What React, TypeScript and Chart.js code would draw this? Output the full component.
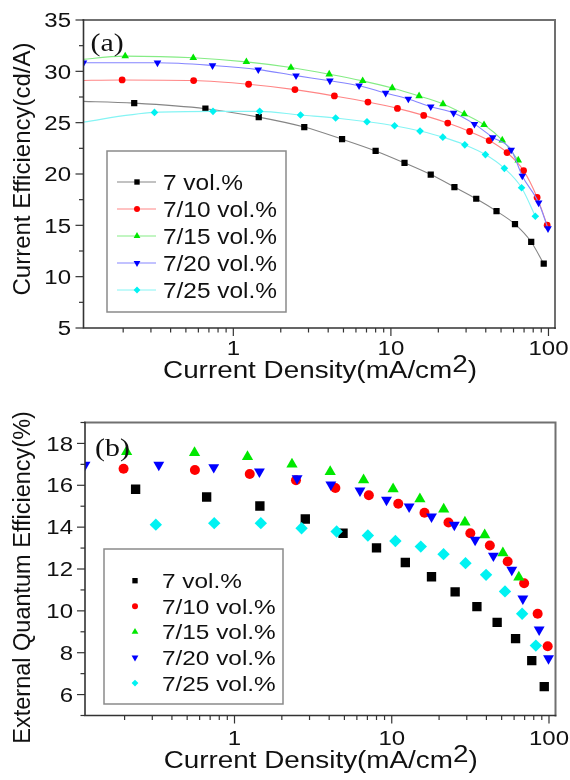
import React, { useEffect, useRef } from "react";
import { Chart, registerables } from "chart.js";

Chart.register(...registerables);

// ---------------- data ----------------
const seriesNames = ["7 vol.%", "7/10 vol.%", "7/15 vol.%", "7/20 vol.%", "7/25 vol.%"];

// current density (mA/cm2) per series
const x7 = [0.235, 0.665, 1.45, 2.82, 4.9, 8.0, 12.2, 17.9, 25.3, 34.8, 46.8, 61.3, 77.7, 93.3];
const x10 = [0.197, 0.56, 1.25, 2.46, 4.38, 7.15, 11.0, 16.15, 22.95, 31.6, 42.05, 54.6, 69.5, 84.7, 98.1];
const x15 = [0.206, 0.557, 1.21, 2.32, 4.06, 6.62, 10.2, 15.1, 21.4, 29.2, 39.0, 50.9, 64.3];
const x20 = [0.112, 0.33, 0.738, 1.44, 2.5, 4.1, 6.28, 9.26, 12.9, 17.9, 25.0, 33.9, 44.3, 58.0, 68.2, 86.6, 99.3];
const x25 = [0.316, 0.743, 1.47, 2.67, 4.46, 7.05, 10.55, 15.3, 21.35, 29.45, 39.8, 52.5, 67.5, 82.5];

// (a) current efficiency (cd/A)
const ce7 = [26.9, 26.36, 25.54, 24.57, 23.39, 22.25, 21.08, 19.94, 18.73, 17.59, 16.38, 15.11, 13.38, 11.26];
const ce10 = [29.16, 29.1, 28.74, 28.22, 27.6, 27.01, 26.39, 25.71, 24.96, 24.14, 23.26, 22.09, 20.33, 17.72, 15.01];
const ce15 = [31.48, 31.32, 30.92, 30.37, 29.72, 29.07, 28.38, 27.6, 26.82, 25.84, 24.79, 23.29, 21.34];
const ce20 = [30.83, 30.83, 30.57, 30.17, 29.58, 29.08, 28.6, 27.89, 27.31, 26.56, 25.94, 24.86, 23.56, 22.35, 19.81, 17.2, 14.69];
const ce25 = [26.0, 26.1, 26.1, 25.74, 25.45, 25.09, 24.7, 24.18, 23.59, 22.84, 21.89, 20.55, 18.66, 15.89];
// where each fitted line enters at the left edge of panel (a)
const LEAD_X = 0.1;
const ceLead = [27.1, 29.1, 31.1, null, 24.95];

// (b) external quantum efficiency (%)
const eqe7 = [15.81, 15.44, 15.01, 14.39, 13.71, 13.01, 12.31, 11.63, 10.91, 10.2, 9.45, 8.67, 7.62, 6.38];
const eqe10 = [16.79, 16.73, 16.54, 16.24, 15.87, 15.52, 15.12, 14.69, 14.22, 13.71, 13.12, 12.36, 11.32, 9.86, 8.31];
const eqe15 = [17.6, 17.55, 17.36, 17.01, 16.65, 16.25, 15.82, 15.35, 14.85, 14.23, 13.63, 12.76, 11.6];
const eqe20 = [16.97, 16.97, 16.86, 16.65, 16.33, 16.03, 15.74, 15.3, 14.98, 14.5, 14.11, 13.39, 12.63, 11.96, 10.58, 9.1, 7.73];
const eqe25 = [14.12, 14.19, 14.19, 13.95, 13.79, 13.6, 13.34, 13.07, 12.71, 12.28, 11.72, 10.93, 9.86, 8.34];

const X_MIN = 0.112;
const X_MAX = 110;
const xTickLabels = ["1", "10", "100"];

const xs = [x7, x10, x15, x20, x25];
const ceYs = [ce7, ce10, ce15, ce20, ce25];
const eqeYs = [eqe7, eqe10, eqe15, eqe20, eqe25];

// ---------------- styles ----------------
const markerColors = ["#000000", "#ff0000", "#00e800", "#0000ff", "#00f2f2"];
const lineColors = ["#858585", "#ff8585", "#85ec85", "#8585ff", "#85f4f4"];
const pointStyles = ["rect", "circle", "triangle", "triangle", "rectRot"];
const pointRotations = [0, 0, 0, 180, 0];
const radiusTop = [4.4, 3.4, 4.4, 4.4, 3.8];
const radiusBottom = [6.6, 5.0, 6.5, 6.3, 6.2];
const legendRadius = [3.8, 3.0, 3.9, 3.9, 3.4];

const SANS = '"Liberation Sans", Arial, Helvetica, sans-serif';
const SERIF = '"Liberation Serif", "Times New Roman", serif';

function stretchText(ctx: CanvasRenderingContext2D, text: string, x: number, y: number, align: CanvasTextAlign, sx: number) {
  ctx.save();
  ctx.translate(x, y);
  ctx.scale(sx, 1);
  ctx.textAlign = align;
  ctx.textBaseline = "alphabetic";
  ctx.fillText(text, 0, 0);
  ctx.restore();
}

function drawMarker(ctx: CanvasRenderingContext2D, style: string, x: number, y: number, r: number, color: string, rot: number) {
  ctx.fillStyle = color;
  ctx.beginPath();
  if (style === "rect") {
    const s = r * Math.SQRT1_2;
    ctx.rect(x - s, y - s, 2 * s, 2 * s);
  } else if (style === "circle") {
    ctx.arc(x, y, r, 0, Math.PI * 2);
  } else if (style === "triangle") {
    const d = rot ? -1 : 1;
    ctx.moveTo(x, y - d * r);
    ctx.lineTo(x - r * 0.866, y + (d * r) / 2);
    ctx.lineTo(x + r * 0.866, y + (d * r) / 2);
    ctx.closePath();
  } else {
    ctx.moveTo(x, y - r);
    ctx.lineTo(x + r, y);
    ctx.lineTo(x, y + r);
    ctx.lineTo(x - r, y);
    ctx.closePath();
  }
  ctx.fill();
}

type Deco = {
  yStep: number;
  yMinor: number;
  yLabelRight: number;
  yTitle: string;
  yTitleFont: number;
  yTitleX: number;
  yTitleY: number;
  xLabelBaseline: number;
  xTitleX: number;
  xTitleBaseline: number;
  panel: string;
  panelX: number;
  panelBaseline: number;
  legendBox: [number, number, number, number];
  legendRow0: number;
  legendStep: number;
  legendMarkerX: number;
  legendTextX: number;
  legendFont: number;
  legendSx: number;
  legendLine: boolean;
};

function decoPlugin(cfg: Deco) {
  return {
    id: "deco",
    afterDraw(chart: any) {
      const ctx: CanvasRenderingContext2D = chart.ctx;
      const { left, right, top, bottom } = chart.chartArea;
      const sx = chart.scales.x;
      const sy = chart.scales.y;
      ctx.save();

      // frame
      ctx.lineCap = "square";
      ctx.strokeStyle = "#707070";
      ctx.lineWidth = 2;
      ctx.beginPath();
      ctx.moveTo(left, top);
      ctx.lineTo(right, top);
      ctx.lineTo(right, bottom);
      ctx.stroke();
      ctx.strokeStyle = "#333333";
      ctx.lineWidth = 1.6;
      ctx.beginPath();
      ctx.moveTo(left, top);
      ctx.lineTo(left, bottom);
      ctx.lineTo(right, bottom);
      ctx.stroke();

      // y ticks and labels
      ctx.lineCap = "butt";
      ctx.lineWidth = 1.2;
      ctx.fillStyle = "#111111";
      ctx.font = `20px ${SANS}`;
      const yMin = sy.min;
      const yMax = sy.max;
      for (let v = Math.ceil(yMin / cfg.yMinor - 1e-9) * cfg.yMinor; v <= yMax + 1e-9; v += cfg.yMinor) {
        const py = sy.getPixelForValue(v);
        const isMajor = Math.abs(v / cfg.yStep - Math.round(v / cfg.yStep)) < 1e-6;
        ctx.beginPath();
        ctx.moveTo(left - (isMajor ? 8 : 4.5), py);
        ctx.lineTo(left, py);
        ctx.stroke();
        if (isMajor) {
          stretchText(ctx, String(Math.round(v)), cfg.yLabelRight, py + 7.2, "right", 1.2);
        }
      }

      // x ticks (log) and labels
      const e0 = Math.floor(Math.log10(sx.min));
      const e1 = Math.ceil(Math.log10(sx.max));
      for (let e = e0; e <= e1; e++) {
        for (let m = 1; m <= 9; m++) {
          const v = m * Math.pow(10, e);
          if (v < sx.min * 0.9999 || v > sx.max * 1.0001) continue;
          const px = sx.getPixelForValue(v);
          ctx.beginPath();
          ctx.moveTo(px, bottom);
          ctx.lineTo(px, bottom + (m === 1 ? 8 : 4.5));
          ctx.stroke();
          if (m === 1) {
            const lbl = xTickLabels.find((t) => Math.abs(Number(t) - v) < 1e-9);
            if (lbl) stretchText(ctx, lbl, px, cfg.xLabelBaseline, "center", 1.2);
          }
        }
      }

      // x title with superscript
      const f = 23;
      const tsx = 1.21;
      ctx.font = `${f}px ${SANS}`;
      const mainT = "Current Density(mA/cm";
      const wMain = ctx.measureText(mainT).width;
      const wSup = ctx.measureText("2").width;
      const wClose = ctx.measureText(")").width;
      const total = (wMain + wSup + wClose) * tsx;
      let cx = cfg.xTitleX - total / 2;
      stretchText(ctx, mainT, cx, cfg.xTitleBaseline, "left", tsx);
      cx += wMain * tsx;
      stretchText(ctx, "2", cx, cfg.xTitleBaseline - 6, "left", tsx);
      cx += wSup * tsx;
      stretchText(ctx, ")", cx, cfg.xTitleBaseline, "left", tsx);

      // y title
      ctx.save();
      ctx.translate(cfg.yTitleX, cfg.yTitleY);
      ctx.rotate(-Math.PI / 2);
      ctx.font = `${cfg.yTitleFont}px ${SANS}`;
      ctx.textAlign = "center";
      ctx.textBaseline = "middle";
      ctx.fillText(cfg.yTitle, 0, 0);
      ctx.restore();

      // panel label
      ctx.font = `26px ${SERIF}`;
      ctx.fillStyle = "#111111";
      stretchText(ctx, cfg.panel, cfg.panelX, cfg.panelBaseline, "left", 1.15);

      // legend
      const [bx, by, bw, bh] = cfg.legendBox;
      ctx.fillStyle = "#ffffff";
      ctx.fillRect(bx, by, bw, bh);
      ctx.strokeStyle = "#8a8a8a";
      ctx.lineWidth = 1.5;
      ctx.strokeRect(bx, by, bw, bh);
      ctx.font = `${cfg.legendFont}px ${SANS}`;
      seriesNames.forEach((name, i) => {
        const ry = cfg.legendRow0 + i * cfg.legendStep;
        if (cfg.legendLine) {
          ctx.strokeStyle = lineColors[i];
          ctx.lineWidth = 1;
          ctx.beginPath();
          ctx.moveTo(cfg.legendMarkerX - 20, ry);
          ctx.lineTo(cfg.legendMarkerX + 19, ry);
          ctx.stroke();
        }
        drawMarker(ctx, pointStyles[i], cfg.legendMarkerX, ry, legendRadius[i], markerColors[i], pointRotations[i]);
        ctx.fillStyle = "#111111";
        stretchText(ctx, name, cfg.legendTextX, ry + 0.358 * cfg.legendFont, "left", cfg.legendSx);
      });

      ctx.restore();
    },
  };
}

function buildDatasets(ys: number[][], radius: number[], withLines: boolean) {
  return ys.map((yArr, i) => {
    const pts = yArr.map((y, k) => ({ x: xs[i][k], y }));
    const lead = ceLead[i];
    if (withLines && lead !== null) pts.unshift({ x: LEAD_X, y: lead });
    return {
      label: seriesNames[i],
      data: pts,
      showLine: withLines,
      borderColor: lineColors[i],
      borderWidth: 1.1,
      backgroundColor: markerColors[i],
      pointBackgroundColor: markerColors[i],
      pointBorderColor: markerColors[i],
      pointBorderWidth: 0,
      pointStyle: pointStyles[i],
      pointRotation: pointRotations[i],
      pointRadius: radius[i],
      pointHoverRadius: radius[i],
      cubicInterpolationMode: "monotone",
      order: 4 - i,
    };
  });
}

function makeChart(canvas: HTMLCanvasElement, top: boolean): Chart {
  const deco: Deco = top
    ? {
        yStep: 5,
        yMinor: 2.5,
        yLabelRight: 71,
        yTitle: "Current Efficiency(cd/A)",
        yTitleFont: 24,
        yTitleX: 23.7,
        yTitleY: 169,
        xLabelBaseline: 355,
        xTitleX: 320,
        xTitleBaseline: 378,
        panel: "(a)",
        panelX: 90.5,
        panelBaseline: 51,
        legendBox: [107, 151, 179, 161],
        legendRow0: 182,
        legendStep: 27,
        legendMarkerX: 137,
        legendTextX: 163,
        legendFont: 22,
        legendSx: 1.11,
        legendLine: true,
      }
    : {
        yStep: 2,
        yMinor: 1,
        yLabelRight: 73,
        yTitle: "External Quantum Efficiency(%)",
        yTitleFont: 23.5,
        yTitleX: 23.7,
        yTitleY: 187.4,
        xLabelBaseline: 355,
        xTitleX: 320.7,
        xTitleBaseline: 378,
        panel: "(b)",
        panelX: 95,
        panelBaseline: 66,
        legendBox: [104, 159, 179, 155],
        legendRow0: 190.7,
        legendStep: 25.6,
        legendMarkerX: 135,
        legendTextX: 162,
        legendFont: 21,
        legendSx: 1.16,
        legendLine: false,
      };

  return new Chart(canvas, {
    type: "scatter",
    data: {
      datasets: buildDatasets(top ? ceYs : eqeYs, top ? radiusTop : radiusBottom, top) as any,
    },
    options: {
      responsive: false,
      animation: false,
      devicePixelRatio: 1,
      events: [],
      layout: {
        padding: top
          ? { left: 83.5, top: 20, right: 15, bottom: 62 }
          : { left: 85, top: 32.5, right: 14.5, bottom: 64.5 },
      },
      scales: {
        x: { type: "logarithmic", min: X_MIN, max: X_MAX, display: false },
        y: top
          ? { type: "linear", min: 5, max: 35, display: false, ticks: { stepSize: 5 } }
          : { type: "linear", min: 5, max: 19, display: false, ticks: { stepSize: 2 } },
      },
      plugins: {
        legend: { display: false },
        tooltip: { enabled: false },
      },
    },
    plugins: [decoPlugin(deco)],
  });
}

function Panel({ top }: { top: boolean }) {
  const ref = useRef<HTMLCanvasElement>(null);
  useEffect(() => {
    const chart = makeChart(ref.current as HTMLCanvasElement, top);
    return () => chart.destroy();
  }, [top]);
  return <canvas ref={ref} width={570} height={390} style={{ display: "block", width: 570, height: 390 }} />;
}

export default function App() {
  return (
    <div style={{ position: "absolute", left: 0, top: 0, width: 570, height: 780, background: "#ffffff" }}>
      <Panel top={true} />
      <Panel top={false} />
    </div>
  );
}
